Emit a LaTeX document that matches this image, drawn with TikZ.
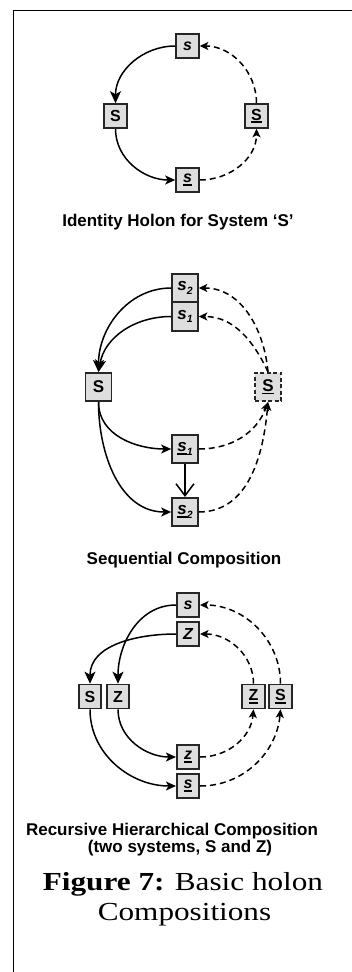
\documentclass[tikz,border=0pt]{standalone}
\usepackage{fontspec}
\setmainfont{Liberation Sans}
\newfontfamily\capserif{Liberation Serif}
\usetikzlibrary{arrows.meta}
\newcommand\ulx[1]{\setbox0\hbox{#1}\rlap{\rule[-3pt]{\wd0}{1.6pt}}\box0}
\newcommand\sbx[1]{\raisebox{-3.5pt}{\fontsize{10.5}{10}\selectfont #1}}
\tikzset{
  bx/.style={draw=black!85, fill=black!13, line width=1.6pt, minimum width=23pt, minimum height=24pt, inner sep=0pt, font=\fontsize{16}{18}\selectfont\bfseries},
  bxb/.style={bx, minimum width=26pt, minimum height=28.5pt, font=\fontsize{17}{19}\selectfont\bfseries},
  bxc/.style={bx, minimum width=22.5pt, minimum height=24pt},
  sol/.style={line width=1.5pt, -{Stealth[length=12pt,width=11pt,inset=3pt]}},
  solm/.style={line width=1.5pt, -{Stealth[length=10pt,width=9pt,inset=2.5pt]}},
  dsh/.style={line width=1.5pt, dash pattern=on 6pt off 4pt, -{Stealth[length=8.5pt,width=8pt,inset=2pt]}},
  captxt/.style={font=\fontsize{17}{20}\selectfont\bfseries, anchor=base},
  figcap/.style={font=\fontsize{26}{30}\selectfont\capserif, anchor=base}
}
\begin{document}
\begin{tikzpicture}[x=1pt,y=1pt]
\useasboundingbox (0,0) rectangle (352,-972);
\draw[line width=1.8pt] (13.5,-972) -- (13.5,-10.5) -- (352,-10.5);

% Panel 1
\node[bx] (p1s) at (187.5,-46) {\itshape s};
\node[bx] (p1S) at (115.5,-116) {S};
\node[bx] (p1u) at (256.5,-116) {\ulx{S}};
\node[bx] (p1l) at (187.5,-180) {\itshape\ulx{s}};
\draw[sol] (p1s.west) to[out=180,in=90] (p1S.north);
\draw[solm] (p1S.south) to[out=-90,in=180] (p1l.west);
\draw[dsh] (p1l.east) to[out=0,in=-90] (p1u.south);
\draw[dsh] (p1u.north) to[out=90,in=0] (p1s.east);
\node[captxt] (c1) at (178,-226) {Identity Holon for System `S'};

% Panel 2
\node[bxb] (p2a) at (185,-288) {\itshape s\sbx{2}};
\node[bxb] (p2b) at (185,-316.5) {\itshape s\sbx{1}};
\node[bxb] (p2S) at (98.5,-387) {S};
\node[bxb, dash pattern=on 4pt off 2.5pt] (p2u) at (268,-387) {\ulx{S}};
\node[bxb] (p2c) at (185,-449) {\itshape\ulx{s}\sbx{1}};
\node[bxb] (p2d) at (185,-512) {\itshape\ulx{s}\sbx{2}};
\draw[sol] (p2a.west) to[out=180,in=90] (p2S.north);
\draw[sol] (p2b.west) to[out=180,in=80] (p2S.north);
\draw[solm] (p2S.south) to[out=-90,in=180] (p2c.west);
\draw[solm] (p2S.south) to[out=-90,in=180] (p2d.west);
\draw[line width=1.5pt, -{Straight Barb[length=12pt,width=18pt]}] (p2c.south) -- (p2d.north);
\draw[dsh] (p2c.east) to[out=0,in=-110] (p2u.south);
\draw[dsh] (p2d.east) to[out=0,in=-95] (p2u.south);
\draw[dsh] (p2u.north) to[out=95,in=0] (p2a.east);
\draw[dsh] (p2u.north) to[out=115,in=0] (p2b.east);
\node[captxt] (c2) at (184,-564) {Sequential Composition};

% Panel 3
\node[bxc] (p3s) at (188,-605) {\itshape s};
\node[bxc] (p3z) at (188,-634) {\itshape Z};
\node[bxc] (p3S) at (90,-696.5) {S};
\node[bxc] (p3Z) at (118,-696.5) {Z};
\node[bxc] (p3Zu) at (253.5,-696.5) {\ulx{Z}};
\node[bxc] (p3Su) at (280.5,-696.5) {\ulx{S}};
\node[bxc] (p3zu) at (188,-757) {\itshape\ulx{z}};
\node[bxc] (p3su) at (188,-786) {\itshape\ulx{s}};
\draw[sol] (p3s.west) to[out=180,in=90] (p3Z.north);
\draw[sol] (p3z.west) to[out=180,in=90] (p3S.north);
\draw[solm] (p3S.south) to[out=-90,in=180] (p3su.west);
\draw[solm] (p3Z.south) to[out=-90,in=180] (p3zu.west);
\draw[dsh] (p3zu.east) to[out=0,in=-95] (p3Zu.south);
\draw[dsh] (p3su.east) to[out=0,in=-95] (p3Su.south);
\draw[dsh] (p3Zu.north) to[out=90,in=0] (p3z.east);
\draw[dsh] (p3Su.north) to[out=90,in=0] (p3s.east);
\node[captxt] (c3a) at (172,-835) {Recursive Hierarchical Composition};
\node[captxt] (c3b) at (180,-852) {(two systems, S and Z)};

% Figure caption
\node[figcap] (f1) at (183,-890.7) {\scalebox{1.2}[1]{\textbf{Figure 7:} Basic holon}};
\node[figcap] (f2) at (184.5,-920) {\scalebox{1.2}[1]{Compositions}};
\end{tikzpicture}
\end{document}
